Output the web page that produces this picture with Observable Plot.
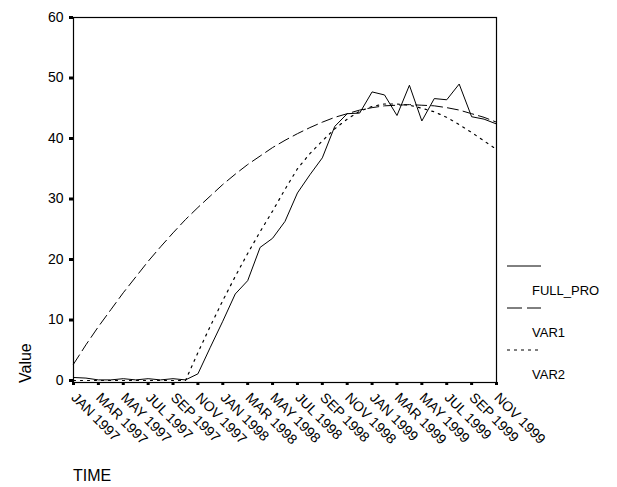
<!DOCTYPE html>
<html><head><meta charset="utf-8">
<script src="https://cdn.jsdelivr.net/npm/d3@7"></script>
<script src="https://cdn.jsdelivr.net/npm/@observablehq/plot@0.6"></script>
<style>
body{margin:0;background:#fff;}
#wrap{position:relative;width:617px;height:487px;background:#fff;}
#wrap svg{position:absolute;left:0;top:0;}
#overlay{pointer-events:none;}
</style></head><body><div id="wrap"></div>
<script>
const months = ["JAN","FEB","MAR","APR","MAY","JUN","JUL","AUG","SEP","OCT","NOV","DEC"];
const startYear = 1997;
const seriesNames = ["FULL_PRO","VAR1","VAR2"];
const fullPro = [0.5,0.4,0.1,0.1,0.3,0.1,0.3,0.1,0.3,0.1,1.1,5.5,9.8,14.3,16.5,22.0,23.5,26.3,31.0,34.0,36.8,42.0,44.1,44.2,47.7,47.2,43.8,48.8,42.9,46.6,46.4,49.0,43.6,43.2,42.4];
const var1 = [2.7,5.9,8.9,11.7,14.5,17.1,19.7,22.1,24.4,26.6,28.6,30.5,32.4,34.1,35.7,37.1,38.5,39.7,40.8,41.8,42.7,43.5,44.1,44.7,45.1,45.4,45.5,45.6,45.5,45.4,45.1,44.7,44.1,43.5,42.7];
const var2 = [0,0,0,0,0,0,0,0,0,0,4.6,9.0,13.2,17.2,21.0,24.6,28.0,31.6,35.0,37.5,39.6,41.6,43.2,44.5,45.3,45.7,45.7,45.5,45.0,44.4,43.5,42.3,41.0,39.6,38.2];
const tickLabels = ["JAN 1997","MAR 1997","MAY 1997","JUL 1997","SEP 1997","NOV 1997","JAN 1998","MAR 1998","MAY 1998","JUL 1998","SEP 1998","NOV 1998","JAN 1999","MAR 1999","MAY 1999","JUL 1999","SEP 1999","NOV 1999"];
const yTicks = [0,10,20,30,40,50,60];

const font = "Arial, 'Liberation Sans', sans-serif";
const rows = fullPro.map((v,i)=>({i, month: months[i%12]+" "+(startYear+Math.floor(i/12)), FULL_PRO:v, VAR1:var1[i], VAR2:var2[i]}));
const xTickIdx = tickLabels.map((_,k)=>k*2);

const chart = Plot.plot({
  width:617, height:487,
  marginLeft:73, marginRight:121, marginTop:17, marginBottom:105,
  style:{fontFamily:font, fontSize:"14px", color:"#000", background:"#fff", overflow:"visible"},
  x:{domain:[0,34]},
  y:{domain:[-0.33,60]},
  marks:[
    Plot.frame({stroke:"#000", strokeWidth:1.2}),
    Plot.line(rows,{x:"i", y:"VAR1", stroke:"#000", strokeWidth:1, strokeDasharray:"11,5"}),
    Plot.line(rows,{x:"i", y:"VAR2", stroke:"#000", strokeWidth:1.2, strokeDasharray:"2,5"}),
    Plot.line(rows,{x:"i", y:"FULL_PRO", stroke:"#000", strokeWidth:1}),
    Plot.axisY({ticks:yTicks, tickSize:4, tickPadding:6, strokeWidth:3, label:null, fontSize:14, fill:"#000"}),
    Plot.axisX({ticks:xTickIdx, tickSize:3, tickPadding:0, strokeWidth:3, tickFormat:()=>"", label:null}),
    Plot.text(xTickIdx,{x:d=>d, frameAnchor:"bottom", text:d=>tickLabels[d/2], rotate:45, textAnchor:"start", lineAnchor:"top", dx:4, dy:9, fontSize:14, fill:"#000"})
  ]
});
const wrap = document.getElementById("wrap");
wrap.appendChild(chart);

// legend and axis titles overlay
const ns = "http://www.w3.org/2000/svg";
const ov = document.createElementNS(ns,"svg");
ov.setAttribute("id","overlay");
ov.setAttribute("width",617); ov.setAttribute("height",487);
ov.setAttribute("font-family",font);
const dashes = {FULL_PRO:null, VAR1:"15,5", VAR2:"3,4"};
const legTop = 266, legStep = 42;
seriesNames.forEach((s,k)=>{
  const y = legTop + k*legStep;
  const ln = document.createElementNS(ns,"line");
  ln.setAttribute("x1",507); ln.setAttribute("x2",541);
  ln.setAttribute("y1",y); ln.setAttribute("y2",y);
  ln.setAttribute("stroke","#000"); ln.setAttribute("stroke-width",1);
  if (dashes[s]) ln.setAttribute("stroke-dasharray",dashes[s]);
  ov.appendChild(ln);
  const t = document.createElementNS(ns,"text");
  t.setAttribute("x",532); t.setAttribute("y",y+29);
  t.setAttribute("font-size",13);
  t.textContent = s;
  ov.appendChild(t);
});
const yl = document.createElementNS(ns,"text");
yl.setAttribute("transform","translate(31,383) rotate(-90)");
yl.setAttribute("font-size",16);
yl.textContent = "Value";
ov.appendChild(yl);
const xl = document.createElementNS(ns,"text");
xl.setAttribute("x",73); xl.setAttribute("y",481);
xl.setAttribute("font-size",16);
xl.textContent = "TIME";
ov.appendChild(xl);
wrap.appendChild(ov);
</script></body></html>
